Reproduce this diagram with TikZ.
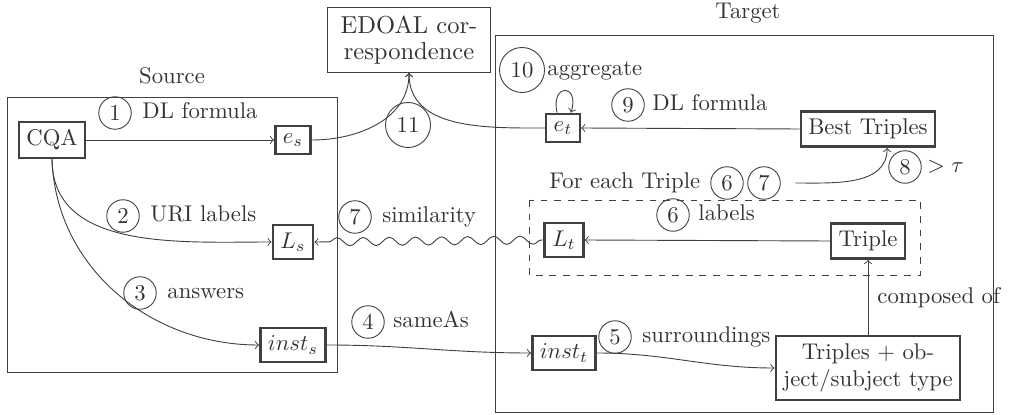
\documentclass[tikz,border=0pt]{standalone}
\usetikzlibrary{decorations.pathmorphing}
\begin{document}
\begin{tikzpicture}[x=0.44pt,y=0.44pt,
  every node/.style={text=black!80},
  box/.style={draw=black!75, line width=1.1pt, inner sep=3.33pt},
  wbox/.style={draw=black!75, inner sep=3.33pt, align=center, minimum width=72pt, minimum height=28.6pt, font=\fontsize{10.8}{11.6}\selectfont},
  container/.style={draw=black!75},
  num/.style={circle, draw=black!75, inner sep=1pt, minimum size=14.3pt},
  numw/.style={num, minimum size=19.8pt},
  lbl/.style={anchor=west, inner sep=0pt, text height=6.8pt, text depth=1.9pt},
  conn/.style={draw=black!75, ->}]
\useasboundingbox (0,0) rectangle (1028,414);

% containers
\draw[container] (7,317) rectangle (337,42);
\draw[container] (495,379) rectangle (993,2);
\draw[container, dashed] (529,214) rectangle (920,139);
\node (srclbl) at (172,338) {Source};
\node (tgtlbl) at (748,401) {Target};

% main nodes
\node[box] (cqa) at (52,274) {CQA};
\node[box] (es) at (293,274) {$e_s$};
\node[box] (ls) at (293,172) {$L_s$};
\node[box] (insts) at (293,69) {$inst_s$};
\node[wbox] (edoal) at (409,374) {EDOAL cor-\\respondence};
\node[box] (et) at (563,286) {$e_t$};
\node[box] (bt) at (868,285) {Best Triples};
\node[box] (lt) at (564,174) {$L_t$};
\node[box] (triple) at (868,173) {Triple};
\node[box] (instt) at (564,61) {$inst_t$};
\node[box, align=center] (triples) at (868,46) {Triples + ob-\\ject/subject type};

% labels
\node[num] (c1) at (115,301) {1};
\node[lbl] (t1) at (142,301) {DL formula};
\node[num] (c2) at (123,198) {2};
\node[lbl] (t2) at (150,198) {URI labels};
\node[num] (c3) at (140,121) {3};
\node[lbl] (t3) at (167,121) {answers};
\node[num] (c4) at (368,92) {4};
\node[lbl] (t4) at (393,92) {sameAs};
\node[num] (c5) at (615,77) {5};
\node[lbl] (t5) at (642,77) {surroundings};
\node[num] (c6l) at (673,199) {6};
\node[lbl] (t6l) at (698,199) {labels};
\node[num] (c7s) at (355,197) {7};
\node[lbl] (t7s) at (382,197) {similarity};
\node[num] (c8) at (905,247) {8};
\node[lbl] (t8) at (927,247) {$>\tau$};
\node[num] (c9) at (628,309) {9};
\node[lbl] (t9) at (652,309) {DL formula};
\node[numw] (c10) at (522,344) {10};
\node[lbl] (t10) at (547,344) {aggregate};
\node[numw] (c11) at (408,289) {11};
\node[lbl] (feach) at (549,231) {For each Triple};
\node[num] (c6b) at (727,231) {6};
\node[num] (c7b) at (764,231) {7};
\node[lbl] (comp) at (877,116) {composed of};

% connectors
\draw[conn] (cqa.east) -- (es.west);
\draw[conn] (es.east) to[out=0,in=-90] (edoal.south);
\draw[conn] (et.west) to[out=180,in=-90] (edoal.south);
\draw[conn] ([xshift=-2.6pt]et.north) .. controls +(-3pt,13pt) and +(4pt,13pt) .. ([xshift=3.5pt]et.north);
\draw[conn] (bt.west) -- (et.east);
\draw[conn] (cqa.south) to[out=-90,in=180] (ls.west);
\draw[conn] (cqa.south) to[out=-88,in=180] (insts.west);
\draw[conn] (insts.east) to[out=0,in=180] (instt.west);
\draw[conn] (instt.east) to[out=0,in=180] (triples.west);
\draw[conn] (triples.north) -- (triple.south);
\draw[conn] (triple.west) -- (lt.east);
\draw[conn, decorate, decoration={snake, amplitude=1.8pt, segment length=11.5pt, pre length=1pt, post length=3pt}] (lt.west) -- (ls.east);
\draw[conn] ([xshift=6.5pt]c7b.east) to[out=0,in=-90] ([xshift=8.4pt]bt.south);
\end{tikzpicture}
\end{document}
